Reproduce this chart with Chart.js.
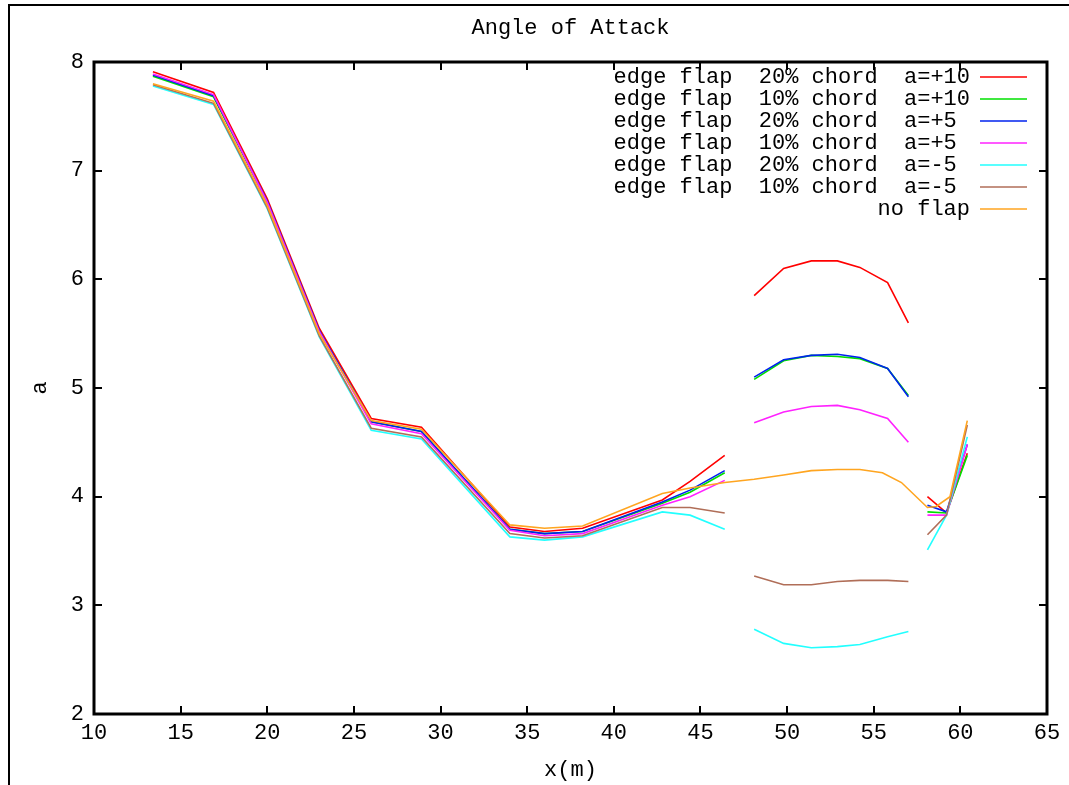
<!DOCTYPE html>
<html>
<head>
<meta charset="utf-8">
<title>Angle of Attack</title>
<script src="https://cdn.jsdelivr.net/npm/chart.js@4/dist/chart.umd.min.js"></script>
<style>
    html, body { margin: 0; padding: 0; background: #fff; }
    #frame {
        position: absolute; left: 8px; top: 4px; width: 1100px; height: 800px;
        border-left: 2px solid #000; border-top: 2px solid #000;
    }
    #aoaChart { position: absolute; left: 0; top: 0; }
</style>
</head>
<body>
<div id="frame"></div>
<canvas id="aoaChart" width="1069" height="785"></canvas>
<script>
// x positions (m) of each stretch of the flapped runs
const xMain = [13.4, 16.9, 20, 23, 26, 28.9, 34, 36, 38.2, 42.8, 44.4, 46.4];
const xMid = [48.1, 49.8, 51.4, 52.9, 54.2, 55.8, 57.0];
const xEnd = [58.1, 59.2, 60.4];

// edge flap 20% chord a=+10
const red20p10Main = [7.91, 7.72, 6.74, 5.55, 4.72, 4.64, 3.72, 3.68, 3.71, 3.97, 4.14, 4.38];
const red20p10Mid = [5.85, 6.10, 6.17, 6.17, 6.11, 5.97, 5.60];
const red20p10End = [4.00, 3.85, 4.40];

// edge flap 10% chord a=+10
const green10p10Main = [7.87, 7.68, 6.71, 5.52, 4.69, 4.60, 3.70, 3.66, 3.68, 3.94, 4.04, 4.22];
const green10p10Mid = [5.08, 5.25, 5.30, 5.29, 5.27, 5.18, 4.93];
const green10p10End = [3.86, 3.85, 4.38];

// edge flap 20% chord a=+5
const blue20p5Main = [7.88, 7.69, 6.72, 5.53, 4.69, 4.60, 3.70, 3.66, 3.68, 3.95, 4.06, 4.24];
const blue20p5Mid = [5.10, 5.26, 5.30, 5.31, 5.28, 5.18, 4.92];
const blue20p5End = [3.92, 3.86, 4.48];

// edge flap 10% chord a=+5
const magenta10p5Main = [7.89, 7.70, 6.71, 5.52, 4.67, 4.58, 3.69, 3.64, 3.66, 3.92, 4.00, 4.15];
const magenta10p5Mid = [4.68, 4.78, 4.83, 4.84, 4.80, 4.72, 4.50];
const magenta10p5End = [3.83, 3.83, 4.48];

// edge flap 20% chord a=-5
const cyan20m5Main = [7.78, 7.61, 6.65, 5.47, 4.61, 4.53, 3.63, 3.60, 3.63, 3.86, 3.83, 3.70];
const cyan20m5Mid = [2.78, 2.65, 2.61, 2.62, 2.64, 2.71, 2.76];
const cyan20m5End = [3.51, 3.83, 4.55];

// edge flap 10% chord a=-5
const brown10m5Main = [7.79, 7.62, 6.66, 5.48, 4.63, 4.55, 3.66, 3.62, 3.64, 3.90, 3.90, 3.85];
const brown10m5Mid = [3.27, 3.19, 3.19, 3.22, 3.23, 3.23, 3.22];
const brown10m5End = [3.65, 3.83, 4.66];

// no flap (one unbroken run)
const xNoFlap = [13.4, 16.9, 20, 23, 26, 28.9, 34, 36, 38.2, 42.8, 44.4, 46.4, 48.1, 49.8, 51.4,
                 52.9, 54.2, 55.5, 56.6, 58.1, 58.6, 59.4, 60.4];
const noFlap = [7.80, 7.64, 6.68, 5.50, 4.70, 4.62, 3.74, 3.71, 3.73, 4.03, 4.08, 4.13, 4.16, 4.20, 4.24,
                4.25, 4.25, 4.22, 4.13, 3.90, 3.91, 4.00, 4.70];

const xTicks = [10, 15, 20, 25, 30, 35, 40, 45, 50, 55, 60, 65];
const yTicks = [2, 3, 4, 5, 6, 7, 8];

const FONT = '"Liberation Mono", "DejaVu Sans Mono", monospace';

// join the three stretches, with a null between them so the line breaks
function buildRun(main, mid, end) {
    const pts = [];
    main.forEach((v, i) => pts.push({ x: xMain[i], y: v }));
    pts.push({ x: 47.2, y: null });
    mid.forEach((v, i) => pts.push({ x: xMid[i], y: v }));
    pts.push({ x: 57.6, y: null });
    end.forEach((v, i) => pts.push({ x: xEnd[i], y: v }));
    return pts;
}

const series = [
    { label: 'edge flap  20% chord  a=+10', color: '#ff0000', data: buildRun(red20p10Main, red20p10Mid, red20p10End) },
    { label: 'edge flap  10% chord  a=+10', color: '#00e000', data: buildRun(green10p10Main, green10p10Mid, green10p10End) },
    { label: 'edge flap  20% chord  a=+5', color: '#0022ee', data: buildRun(blue20p5Main, blue20p5Mid, blue20p5End) },
    { label: 'edge flap  10% chord  a=+5', color: '#ff22ff', data: buildRun(magenta10p5Main, magenta10p5Mid, magenta10p5End) },
    { label: 'edge flap  20% chord  a=-5', color: '#22ffff', data: buildRun(cyan20m5Main, cyan20m5Mid, cyan20m5End) },
    { label: 'edge flap  10% chord  a=-5', color: '#b06e58', data: buildRun(brown10m5Main, brown10m5Mid, brown10m5End) },
    { label: 'no flap', color: '#ffa520', data: xNoFlap.map((x, i) => ({ x: x, y: noFlap[i] })) }
];

// gnuplot-style frame, inward ticks on all four sides, title and key
const gnuplotFrame = {
    id: 'gnuplotFrame',
    afterDraw(chart) {
        const ctx = chart.ctx;
        const a = chart.chartArea;
        const xs = chart.scales.x;
        const ys = chart.scales.y;
        ctx.save();
        ctx.strokeStyle = '#000';
        ctx.lineWidth = 2;
        xTicks.forEach(t => {
            const px = Math.round(xs.getPixelForValue(t));
            ctx.beginPath();
            ctx.moveTo(px, a.bottom); ctx.lineTo(px, a.bottom - 8);
            ctx.moveTo(px, a.top); ctx.lineTo(px, a.top + 8);
            ctx.stroke();
        });
        yTicks.forEach(t => {
            const py = Math.round(ys.getPixelForValue(t));
            ctx.beginPath();
            ctx.moveTo(a.left, py); ctx.lineTo(a.left + 8, py);
            ctx.moveTo(a.right, py); ctx.lineTo(a.right - 8, py);
            ctx.stroke();
        });
        ctx.lineWidth = 3;
        ctx.strokeRect(a.left, a.top, a.right - a.left, a.bottom - a.top);

        // title
        ctx.fillStyle = '#000';
        ctx.font = '22px ' + FONT;
        ctx.textAlign = 'center';
        ctx.textBaseline = 'middle';
        ctx.fillText('Angle of Attack', (a.left + a.right) / 2, 28);

        // key, text right-aligned against the line samples
        const longest = Math.max(...series.filter(s => s.label.startsWith('edge')).map(s => s.label.length));
        ctx.textAlign = 'right';
        series.forEach((s, i) => {
            const y = 77 + 22 * i;
            const text = s.label.startsWith('edge') ? s.label.padEnd(longest) : s.label;
            ctx.fillStyle = '#000';
            ctx.fillText(text, 970, y);
            ctx.strokeStyle = s.color;
            ctx.lineWidth = 1.5;
            ctx.beginPath();
            ctx.moveTo(980, y); ctx.lineTo(1027, y);
            ctx.stroke();
        });
        ctx.restore();
    }
};

const ctx = document.getElementById('aoaChart').getContext('2d');
const aoaChart = new Chart(ctx, {
    type: 'line',
    data: {
        datasets: series.map((s, i) => ({
            label: s.label,
            data: s.data,
            borderColor: s.color,
            backgroundColor: s.color,
            borderWidth: 1.6,
            pointRadius: 0,
            tension: 0,
            spanGaps: false,
            order: series.length - i
        }))
    },
    options: {
        responsive: false,
        animation: false,
        layout: { padding: { left: 0, right: 22, top: 62, bottom: 0 } },
        plugins: {
            legend: { display: false },
            title: { display: false },
            tooltip: { enabled: false }
        },
        scales: {
            x: {
                type: 'linear',
                min: 10,
                max: 65,
                afterBuildTicks: scale => { scale.ticks = xTicks.map(v => ({ value: v })); },
                afterFit: scale => { scale.height = 71; },
                grid: { display: false, drawTicks: false },
                border: { display: false },
                ticks: { color: '#000', padding: 6, maxRotation: 0, font: { family: FONT, size: 22 } },
                title: { display: true, text: 'x(m)', color: '#000', padding: { top: 0, bottom: 2 }, font: { family: FONT, size: 22 } }
            },
            y: {
                type: 'linear',
                min: 2,
                max: 8,
                afterBuildTicks: scale => { scale.ticks = yTicks.map(v => ({ value: v })); },
                afterFit: scale => { scale.width = 94; },
                grid: { display: false, drawTicks: false },
                border: { display: false },
                ticks: { color: '#000', padding: 10, font: { family: FONT, size: 22 } },
                title: { display: true, text: 'a', color: '#000', padding: { top: 27, bottom: 0 }, font: { family: FONT, size: 22 } }
            }
        }
    },
    plugins: [gnuplotFrame]
});
</script>
</body>
</html>
